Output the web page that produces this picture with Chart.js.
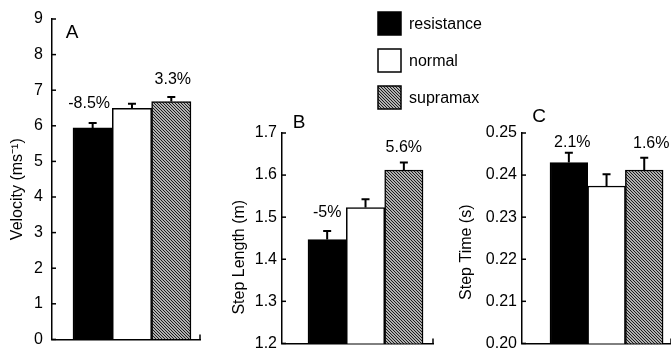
<!DOCTYPE html>
<html>
<head>
<meta charset="utf-8">
<script src="https://cdn.jsdelivr.net/npm/chart.js@4"></script>
<style>
  html, body { margin: 0; padding: 0; background: #fff; width: 671px; height: 358px; overflow: hidden; }
  canvas { position: absolute; top: 0; }
</style>
</head>
<body>
<canvas id="chartA" width="230" height="358" style="left:0px"></canvas>
<canvas id="chartB" width="275" height="358" style="left:225px"></canvas>
<canvas id="chartC" width="216" height="358" style="left:455px"></canvas>
<script>
// data
const conditions = ["resistance", "normal", "supramax"];

const velocity = [5.94, 6.49, 6.68];
const velocityErr = [0.14, 0.13, 0.13];
const velocityPct = ["-8.5%", "", "3.3%"];
const velocityTicks = [0, 1, 2, 3, 4, 5, 6, 7, 8, 9];
const velocityTickLabels = ["0", "1", "2", "3", "4", "5", "6", "7", "8", "9"];

const stepLength = [1.447, 1.523, 1.612];
const stepLengthErr = [0.02, 0.0195, 0.018];
const stepLengthPct = ["-5%", "", "5.6%"];
const stepLengthTicks = [1.2, 1.3, 1.4, 1.5, 1.6, 1.7];
const stepLengthTickLabels = ["1.2", "1.3", "1.4", "1.5", "1.6", "1.7"];

const stepTime = [0.2430, 0.2374, 0.2412];
const stepTimeErr = [0.0023, 0.0028, 0.0029];
const stepTimePct = ["2.1%", "", "1.6%"];
const stepTimeTicks = [0.20, 0.21, 0.22, 0.23, 0.24, 0.25];
const stepTimeTickLabels = ["0.20", "0.21", "0.22", "0.23", "0.24", "0.25"];

const FONT = "'Liberation Sans', Arial, sans-serif";

function hatchPattern() {
  const c = document.createElement("canvas");
  c.width = 3; c.height = 3;
  const g = c.getContext("2d");
  g.fillStyle = "#f2f2f2";
  g.fillRect(0, 0, 3, 3);
  g.strokeStyle = "#111";
  g.lineWidth = 1.1;
  g.beginPath();
  g.moveTo(-1, -1); g.lineTo(4, 4);
  g.moveTo(2, -1); g.lineTo(4, 1);
  g.moveTo(-1, 2); g.lineTo(1, 4);
  g.stroke();
  return g.createPattern(c, "repeat");
}
const hatch = hatchPattern();
const barColors = ["#000", "#fff", hatch];

// error bars, percent labels, inward ticks, panel letter, axis title
const panelPlugin = {
  id: "panel",
  afterDatasetsDraw(chart, args, o) {
    const ctx = chart.ctx;
    const area = chart.chartArea;
    const xs = chart.scales.x, ys = chart.scales.y;
    const meta = chart.getDatasetMeta(0);
    const data = chart.data.datasets[0].data;
    ctx.save();
    ctx.strokeStyle = "#000";
    ctx.lineWidth = 1.5;
    // inward tick marks
    ys.ticks.forEach(t => {
      const py = ys.getPixelForValue(t.value);
      ctx.beginPath();
      ctx.moveTo(ys.right, py);
      ctx.lineTo(ys.right + 4, py);
      ctx.stroke();
    });
    ctx.beginPath();
    ctx.moveTo(xs.right, area.bottom);
    ctx.lineTo(xs.right, area.bottom - 5);
    ctx.stroke();

    ctx.font = "16px " + FONT;
    ctx.fillStyle = "#000";
    ctx.textAlign = "center";
    ctx.textBaseline = "middle";
    ctx.lineWidth = 2;
    o.err.forEach((e, i) => {
      const bar = meta.data[i];
      const top = ys.getPixelForValue(data[i].y + e);
      ctx.beginPath();
      ctx.moveTo(bar.x, bar.y);
      ctx.lineTo(bar.x, top);
      ctx.moveTo(bar.x - 4, top);
      ctx.lineTo(bar.x + 4, top);
      ctx.stroke();
      if (o.pct[i]) {
        ctx.fillText(o.pct[i], bar.x + o.pctDx[i], top + o.pctDy[i]);
      }
    });
    ctx.font = "19px " + FONT;
    ctx.fillText(o.letter, area.left + o.letterDx, area.top + o.letterDy);

    // y axis title
    ctx.font = "16px " + FONT;
    ctx.translate(o.titleX, (area.top + area.bottom) / 2 + o.titleDy);
    ctx.rotate(-Math.PI / 2);
    ctx.fillText(o.title, 0, 0);
    ctx.restore();
  }
};

const legendPlugin = {
  id: "boxLegend",
  afterDraw(chart, args, o) {
    const ctx = chart.ctx;
    ctx.save();
    ctx.font = "16px " + FONT;
    ctx.textBaseline = "middle";
    ctx.textAlign = "left";
    conditions.forEach((name, i) => {
      const y = o.top + i * o.step;
      ctx.fillStyle = barColors[i];
      ctx.fillRect(o.left, y, o.box, o.box);
      ctx.strokeStyle = "#000";
      ctx.lineWidth = 1.5;
      ctx.strokeRect(o.left, y, o.box, o.box);
      ctx.fillStyle = "#000";
      ctx.fillText(name, o.left + o.box + 8, y + o.box / 2 + 1);
    });
    ctx.restore();
  }
};

function makeChart(id, values, cfg) {
  const plugins = [panelPlugin];
  if (cfg.legend) plugins.push(legendPlugin);
  const positions = values.map((v, i) => i + 1);
  return new Chart(document.getElementById(id), {
    type: "bar",
    data: {
      datasets: [{
        label: cfg.panel.title,
        data: values.map((v, i) => ({ x: positions[i], y: v })),
        backgroundColor: barColors,
        borderColor: "#000",
        borderWidth: 1.5,
        categoryPercentage: 1,
        barPercentage: 1
      }]
    },
    plugins: plugins,
    options: {
      responsive: false,
      animation: false,
      devicePixelRatio: 1,
      layout: { padding: cfg.padding },
      plugins: {
        legend: { display: false },
        tooltip: { enabled: false },
        panel: cfg.panel,
        boxLegend: cfg.legend || {}
      },
      scales: {
        x: {
          type: "linear",
          offset: false,
          min: cfg.xMin,
          max: cfg.xMax,
          afterBuildTicks: s => { s.ticks = positions.map(v => ({ value: v })); },
          ticks: { display: false },
          grid: { offset: false, drawOnChartArea: false, drawTicks: false },
          border: { color: "#000", width: 1.5 },
          afterFit: s => { s.height = 0; }
        },
        y: {
          min: cfg.ticks[0],
          max: cfg.ticks[cfg.ticks.length - 1],
          afterBuildTicks: s => { s.ticks = cfg.ticks.map(v => ({ value: v })); },
          ticks: {
            callback: (v, i) => cfg.tickLabels[i],
            color: "#000",
            font: { size: 16, family: FONT },
            padding: cfg.tickPad
          },
          grid: { drawOnChartArea: false, drawTicks: false },
          border: { color: "#000", width: 1.5 },
          afterFit: s => { s.width = cfg.axisWidth; }
        }
      }
    }
  });
}

makeChart("chartA", velocity, {
  ticks: velocityTicks, tickLabels: velocityTickLabels,
  padding: { top: 19, bottom: 9, left: 0, right: 30 },
  axisWidth: 52, tickPad: 9,
  xMin: -0.034, xMax: 3.73,
  panel: { err: velocityErr, pct: velocityPct, pctDx: [-3.5, 0, 1.5], pctDy: [-19, 0, -17],
           letter: "A", letterDx: 20, letterDy: 14,
           title: "Velocity (ms\u207B\u00B9)", titleX: 18, titleDy: 10 }
});

makeChart("chartB", stepLength, {
  ticks: stepLengthTicks, tickLabels: stepLengthTickLabels,
  padding: { top: 133, bottom: 10, left: 0, right: 67 },
  axisWidth: 57, tickPad: 5,
  xMin: -0.178, xMax: 3.76,
  panel: { err: stepLengthErr, pct: stepLengthPct, pctDx: [0, 0, 0], pctDy: [-18, 0, -15],
           letter: "B", letterDx: 17, letterDy: -10,
           title: "Step Length (m)", titleX: 15, titleDy: 19 },
  legend: { left: 153, top: 12, step: 37, box: 23 }
});

makeChart("chartC", stepTime, {
  ticks: stepTimeTicks, tickLabels: stepTimeTickLabels,
  padding: { top: 133, bottom: 10, left: 0, right: 0 },
  axisWidth: 67, tickPad: 5,
  xMin: -0.243, xMax: 3.71,
  panel: { err: stepTimeErr, pct: stepTimePct, pctDx: [3.5, 0, 7], pctDy: [-10, 0, -14],
           letter: "C", letterDx: 17, letterDy: -16,
           title: "Step Time (s)", titleX: 12, titleDy: 14 }
});
</script>
</body>
</html>
